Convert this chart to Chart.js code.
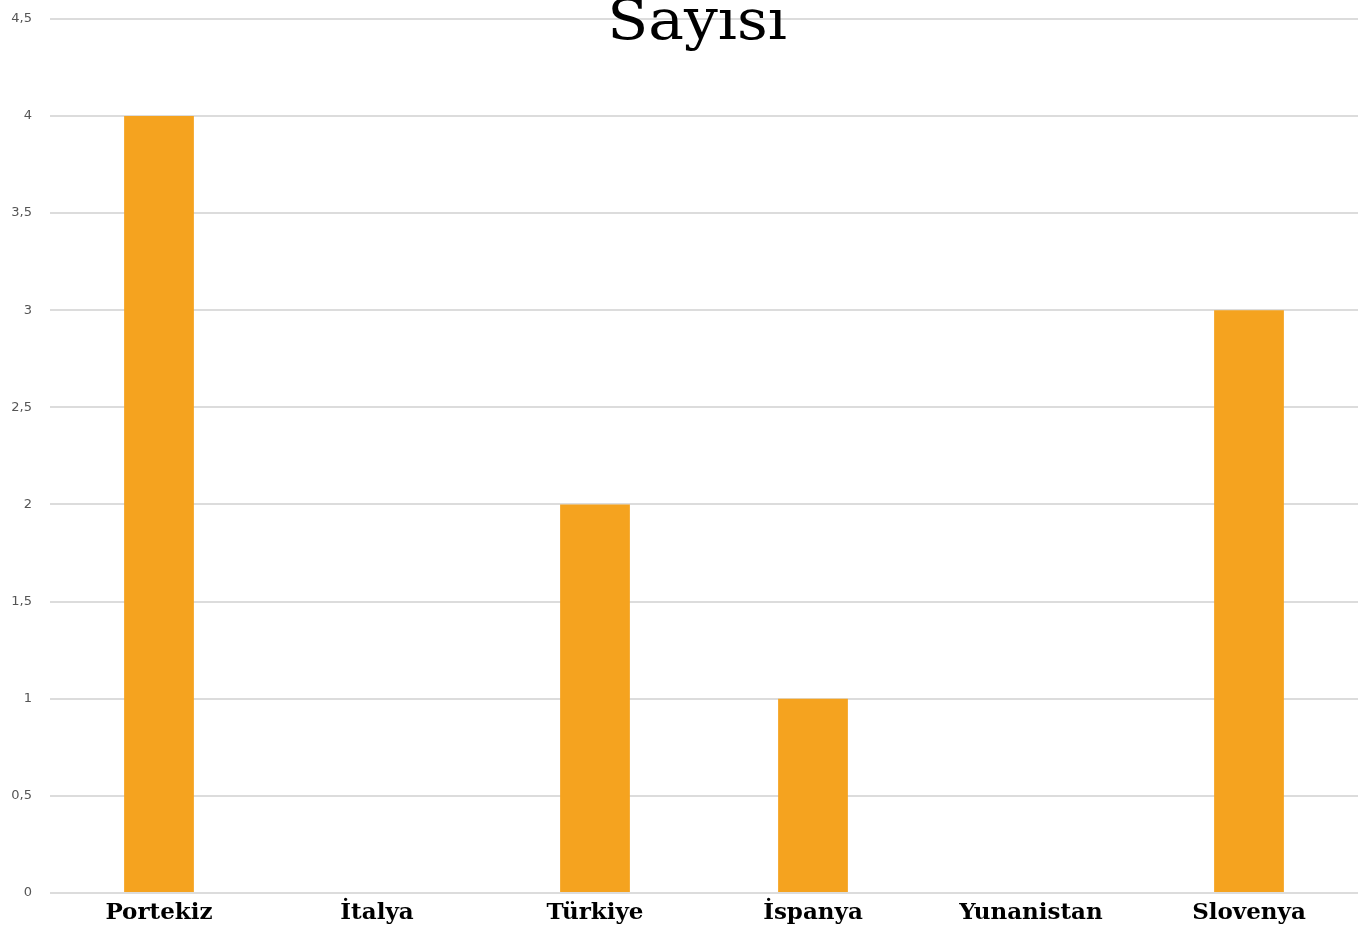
<!DOCTYPE html>
<html lang="tr">
<head>
  <meta charset="UTF-8" />
  <title>Sayısı</title>
  <script src="https://cdn.jsdelivr.net/npm/chart.js"></script>
  <style>
    html, body { margin: 0; padding: 0; background: #fff; overflow: hidden; }
    .chart-box { position: relative; width: 1369px; height: 935px; margin-top: -7px; }
  </style>
</head>
<body>
<div class="chart-box">
  <canvas id="countryChart"></canvas>
</div>
<script>
  const countries = ['Portekiz', 'İtalya', 'Türkiye', 'İspanya', 'Yunanistan', 'Slovenya'];
  const counts = [4, 0, 2, 1, 0, 3];
  const titleText = 'Sayısı';

  // title sits on top of the plot, its upper part is cut off by the frame
  const titleOverlay = {
    id: 'titleOverlay',
    afterDraw(chart) {
      const ctx = chart.ctx;
      const area = chart.chartArea;
      ctx.save();
      ctx.font = '56px "DejaVu Serif"';
      ctx.fillStyle = '#000';
      ctx.textAlign = 'center';
      ctx.textBaseline = 'alphabetic';
      ctx.translate((area.left + area.right) / 2 - 7, 46);
      ctx.scale(1.07, 1);
      ctx.fillText(titleText, 0, 0);
      ctx.restore();
    }
  };

  new Chart(document.getElementById('countryChart'), {
    type: 'bar',
    data: {
      labels: countries,
      datasets: [{
        data: counts,
        backgroundColor: '#F5A31F',
        borderWidth: 0,
        barPercentage: 0.32,
        categoryPercentage: 1
      }]
    },
    options: {
      responsive: true,
      maintainAspectRatio: false,
      animation: false,
      layout: { padding: { top: 5, right: 11, left: 0, bottom: 0 } },
      plugins: {
        legend: { display: false },
        tooltip: { enabled: false }
      },
      scales: {
        x: {
          grid: { display: false, drawTicks: false },
          border: { display: false },
          ticks: {
            color: '#000',
            padding: 6,
            maxRotation: 0,
            font: { family: '"DejaVu Serif"', size: 23, weight: 'bold' }
          },
          afterFit(scale) { scale.height = 35; }
        },
        y: {
          min: 0,
          max: 4.5,
          grid: { color: '#dcdcdc', lineWidth: 2, drawTicks: false },
          border: { display: false },
          ticks: {
            stepSize: 0.5,
            color: '#555',
            padding: 18,
            font: { family: '"DejaVu Sans"', size: 13 },
            callback: (v) => String(v).replace('.', ',')
          },
          afterFit(scale) { scale.width = 50; }
        }
      }
    },
    plugins: [titleOverlay]
  });
</script>
</body>
</html>
